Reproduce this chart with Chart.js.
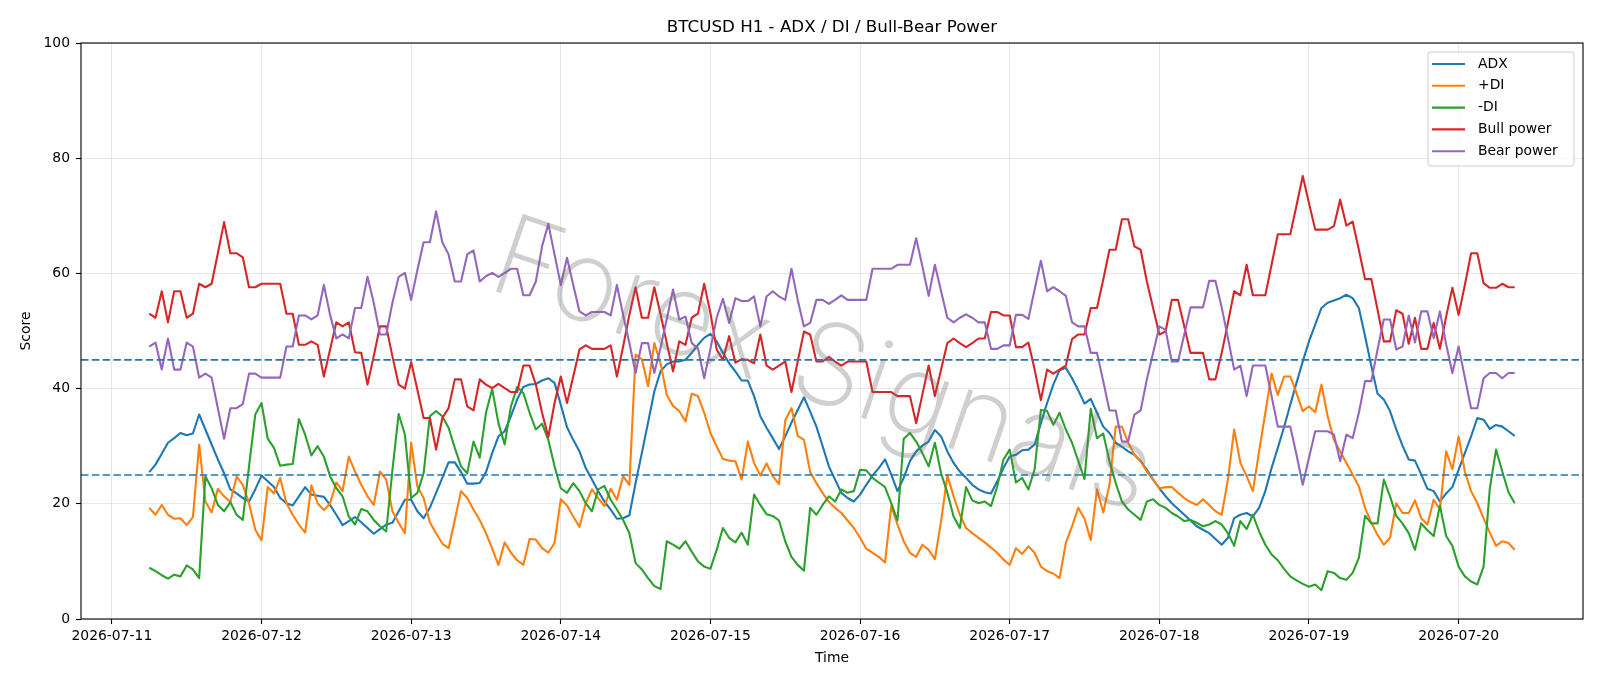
<!DOCTYPE html>
<html>
<head>
<meta charset="utf-8">
<title>BTCUSD H1 - ADX / DI / Bull-Bear Power</title>
<script src="https://cdn.jsdelivr.net/npm/chart.js@4.4.1/dist/chart.umd.min.js"></script>
<style>
  html, body { margin: 0; padding: 0; background: #fff; }
  #chart { display: block; }
</style>
</head>
<body>
<canvas id="chart" width="1600" height="686"></canvas>
<script>
// hourly bars, first one is 2026-07-11 06:00
var startHour = 6;
var dayLabels = ['2026-07-11', '2026-07-12', '2026-07-13', '2026-07-14', '2026-07-15',
	'2026-07-16', '2026-07-17', '2026-07-18', '2026-07-19', '2026-07-20'];

var adx = [25.5, 26.8, 28.7, 30.6, 31.4, 32.3, 31.9, 32.2, 35.5, 32.9, 30.3, 27.7, 25.3, 22.5, 21.8, 21.0, 20.4, 22.5, 24.9, 23.9,
	22.9, 21.0, 20.1, 19.7, 21.3, 22.9, 21.6, 21.4, 21.2, 19.8, 18.1, 16.3, 17.0, 17.7, 16.8, 15.8, 14.8, 15.6, 16.4, 16.7,
	18.7, 20.7, 20.7, 18.7, 17.5, 19.3, 21.9, 24.5, 27.2, 27.2, 25.5, 23.5, 23.5, 23.6, 25.5, 28.8, 31.7, 32.6, 35.2, 38.1,
	40.3, 40.7, 40.8, 41.4, 41.8, 41.0, 37.2, 33.3, 31.1, 29.1, 26.2, 24.2, 22.2, 20.4, 19.0, 17.4, 17.5, 18.0, 23.6, 28.8,
	34.1, 39.5, 43.0, 44.2, 44.7, 44.7, 45.0, 46.2, 47.6, 48.8, 49.5, 48.2, 46.2, 44.4, 43.0, 41.4, 41.4, 38.7, 35.2, 33.2,
	31.4, 29.5, 31.7, 34.1, 36.3, 38.5, 36.0, 33.4, 30.0, 26.5, 24.2, 21.9, 21.0, 20.4, 21.6, 23.3, 24.9, 26.2, 27.7, 25.1,
	22.2, 24.5, 27.4, 29.1, 30.1, 30.8, 32.8, 31.7, 29.1, 27.1, 25.6, 24.5, 23.3, 22.5, 22.0, 21.8, 23.9, 26.2, 28.2, 28.5,
	29.3, 29.4, 30.3, 34.0, 37.5, 40.7, 43.2, 43.6, 41.8, 39.7, 37.4, 38.2, 35.8, 33.4, 32.3, 30.6, 29.9, 29.1, 28.5, 27.4,
	25.9, 24.2, 22.7, 21.3, 20.1, 19.1, 18.1, 17.1, 16.1, 15.5, 14.9, 13.9, 12.9, 14.1, 17.5, 18.1, 18.4, 17.8, 19.3, 22.2,
	26.2, 29.7, 33.3, 37.2, 41.0, 44.7, 48.2, 51.1, 54.0, 54.9, 55.3, 55.7, 56.3, 55.7, 54.0, 49.1, 43.9, 39.1, 38.1, 36.1,
	32.9, 30.1, 27.7, 27.5, 25.1, 22.6, 22.2, 20.4, 21.8, 22.9, 25.9, 28.8, 31.7, 34.9, 34.6, 33.0, 33.7, 33.4, 32.6, 31.8];

var plusDI = [19.3, 18.1, 19.8, 18.1, 17.4, 17.5, 16.3, 17.7, 30.3, 20.4, 18.5, 22.6, 21.3, 20.3, 24.7, 23.3, 20.1, 15.5, 13.7, 22.9,
	21.8, 24.5, 20.1, 18.1, 16.4, 15.0, 23.2, 20.1, 18.9, 20.1, 23.7, 22.2, 28.2, 25.6, 23.3, 21.3, 19.8, 25.6, 24.2, 18.7,
	16.7, 14.9, 30.6, 23.0, 21.0, 16.8, 14.9, 13.1, 12.3, 17.2, 22.2, 21.0, 19.0, 17.2, 14.9, 12.2, 9.4, 13.3, 11.5, 10.2,
	9.4, 13.9, 13.8, 12.3, 11.5, 13.2, 20.8, 19.7, 17.8, 16.0, 20.1, 22.5, 21.0, 19.6, 22.6, 20.7, 24.8, 23.3, 45.9, 45.1,
	40.4, 47.9, 44.4, 38.9, 37.0, 36.1, 34.3, 39.1, 38.7, 35.8, 32.3, 30.0, 27.8, 27.5, 27.4, 24.2, 30.8, 27.1, 24.9, 27.0,
	24.8, 23.4, 34.5, 36.6, 31.8, 31.1, 25.5, 23.6, 21.9, 20.3, 19.3, 18.4, 17.1, 15.8, 14.1, 12.2, 11.5, 10.8, 9.8, 19.6,
	16.4, 13.5, 11.5, 10.8, 12.9, 12.0, 10.4, 17.0, 24.9, 21.3, 18.1, 15.8, 14.9, 14.1, 13.3, 12.4, 11.5, 10.3, 9.4, 12.3,
	11.3, 12.6, 11.5, 9.1, 8.3, 7.9, 7.1, 13.2, 16.1, 19.3, 17.4, 13.7, 22.5, 18.5, 23.3, 33.4, 33.4, 30.6, 28.5, 27.4,
	25.6, 24.2, 22.7, 22.9, 22.9, 21.9, 21.0, 20.3, 19.8, 20.8, 19.8, 18.7, 18.1, 24.2, 32.9, 27.1, 24.8, 22.2, 29.1, 35.8,
	42.6, 38.9, 42.1, 42.1, 39.2, 36.1, 36.9, 35.9, 40.7, 35.2, 31.1, 29.1, 27.1, 25.1, 23.0, 19.3, 16.7, 14.6, 12.9, 14.1,
	20.1, 18.4, 18.4, 20.6, 17.5, 16.4, 20.7, 19.0, 29.1, 26.0, 31.7, 25.6, 22.2, 20.1, 17.5, 15.0, 12.7, 13.5, 13.2, 12.0];

var minusDI = [8.9, 8.3, 7.6, 7.0, 7.7, 7.4, 9.3, 8.6, 7.1, 24.8, 22.7, 19.8, 18.7, 20.3, 18.1, 17.2, 26.5, 35.5, 37.5, 31.3,
	29.7, 26.6, 26.8, 26.9, 34.7, 32.0, 28.4, 30.0, 28.2, 24.8, 22.7, 21.3, 17.8, 16.4, 19.1, 18.7, 17.2, 16.1, 15.2, 25.9,
	35.6, 32.0, 21.0, 21.9, 25.3, 35.2, 36.1, 35.2, 33.2, 29.7, 26.5, 25.3, 30.8, 28.0, 35.8, 39.9, 34.0, 30.3, 36.9, 40.3,
	39.2, 35.8, 32.9, 33.9, 31.1, 26.5, 22.7, 21.9, 23.6, 22.2, 20.1, 18.7, 22.5, 23.1, 20.7, 19.0, 17.2, 14.9, 9.7, 8.6,
	7.1, 5.7, 5.2, 13.5, 12.9, 12.2, 13.5, 11.7, 10.0, 9.1, 8.7, 12.0, 15.8, 14.1, 13.3, 15.0, 12.9, 21.6, 19.8, 18.2,
	17.9, 17.1, 13.5, 10.8, 9.4, 8.4, 19.3, 18.1, 19.8, 21.3, 20.4, 22.5, 21.9, 22.2, 25.9, 25.8, 24.5, 23.7, 22.9, 20.1,
	17.1, 31.3, 32.3, 30.8, 28.8, 26.5, 30.6, 25.3, 21.9, 17.8, 15.8, 22.9, 20.6, 20.1, 20.4, 19.6, 23.0, 27.7, 29.4, 23.7,
	24.5, 22.5, 26.0, 36.3, 36.1, 33.7, 35.8, 32.9, 30.6, 27.4, 24.3, 36.5, 31.4, 32.2, 27.4, 23.6, 20.4, 19.0, 18.1, 17.2,
	20.4, 20.8, 19.8, 19.3, 18.4, 17.8, 17.0, 17.2, 16.7, 16.1, 16.4, 17.0, 16.4, 14.9, 12.7, 17.0, 15.6, 18.1, 15.2, 12.9,
	11.2, 10.2, 8.7, 7.4, 6.7, 6.1, 5.6, 6.0, 5.0, 8.3, 8.0, 7.1, 6.8, 8.0, 10.6, 17.9, 16.6, 16.6, 24.2, 21.3,
	17.9, 16.6, 14.9, 12.0, 16.6, 15.4, 14.4, 19.7, 14.4, 12.7, 9.1, 7.4, 6.5, 6.0, 9.1, 22.6, 29.4, 25.6, 22.0, 20.1];

var bullPower = [53.0, 52.3, 56.9, 51.5, 56.9, 56.9, 52.3, 53.0, 58.2, 57.6, 58.2, 63.5, 68.9, 63.5, 63.5, 62.8, 57.6, 57.6, 58.2, 58.2,
	58.2, 58.2, 53.0, 53.0, 47.6, 47.6, 48.2, 47.6, 42.1, 46.8, 51.5, 50.8, 51.5, 46.3, 46.2, 40.7, 45.6, 50.8, 50.8, 45.6,
	40.7, 40.0, 44.6, 39.8, 34.9, 34.9, 29.4, 34.9, 36.6, 41.6, 41.6, 36.9, 36.2, 41.6, 40.7, 40.1, 40.8, 40.1, 39.4, 39.4,
	44.0, 44.0, 40.7, 35.8, 31.6, 37.5, 42.1, 37.5, 42.1, 46.8, 47.5, 46.9, 46.9, 46.9, 47.5, 42.1, 47.3, 52.8, 57.6, 52.3,
	52.3, 57.6, 52.9, 47.9, 43.0, 48.2, 47.6, 52.3, 53.0, 58.2, 53.1, 46.8, 45.0, 49.1, 44.5, 45.1, 45.0, 44.4, 49.4, 44.0,
	43.3, 44.0, 44.7, 39.4, 44.7, 49.9, 49.4, 44.7, 44.7, 45.5, 44.7, 44.0, 44.7, 44.7, 44.7, 44.7, 39.4, 39.4, 39.4, 39.4,
	38.7, 38.7, 38.7, 34.0, 39.0, 44.0, 38.7, 43.3, 47.9, 48.7, 47.9, 47.2, 47.9, 48.7, 48.7, 53.3, 53.3, 52.7, 52.7, 47.2,
	47.2, 48.0, 43.3, 38.0, 43.3, 42.6, 43.3, 44.0, 48.6, 49.4, 49.4, 54.0, 54.0, 58.9, 64.1, 64.1, 69.4, 69.4, 64.7, 64.1,
	58.6, 54.0, 49.4, 49.9, 55.4, 55.4, 50.8, 46.2, 46.2, 46.2, 41.6, 41.6, 46.2, 51.4, 56.9, 56.2, 61.5, 56.2, 56.2, 56.2,
	61.5, 66.8, 66.8, 66.8, 71.8, 76.9, 72.2, 67.6, 67.6, 67.6, 68.2, 72.8, 68.3, 69.0, 64.1, 59.0, 59.0, 53.7, 48.2, 48.2,
	53.6, 53.0, 47.8, 52.3, 46.9, 46.9, 51.4, 46.9, 52.5, 57.5, 52.8, 58.0, 63.5, 63.5, 58.3, 57.5, 57.5, 58.2, 57.6, 57.6];

var bearPower = [47.3, 48.0, 43.3, 48.7, 43.3, 43.3, 48.0, 47.3, 41.9, 42.6, 41.9, 36.6, 31.3, 36.6, 36.6, 37.3, 42.6, 42.6, 41.9, 41.9,
	41.9, 41.9, 47.3, 47.3, 52.7, 52.7, 52.0, 52.7, 58.0, 52.8, 48.7, 49.4, 48.7, 54.0, 54.0, 59.4, 54.9, 49.4, 49.4, 54.9,
	59.4, 60.1, 55.4, 60.6, 65.4, 65.4, 70.8, 65.4, 63.3, 58.6, 58.6, 63.3, 64.0, 58.6, 59.5, 60.1, 59.4, 60.1, 60.8, 60.8,
	56.2, 56.2, 58.6, 64.7, 68.6, 63.3, 58.0, 62.7, 58.0, 53.4, 52.7, 53.3, 53.3, 53.3, 52.7, 58.0, 52.8, 47.9, 42.7, 47.9,
	47.9, 42.7, 47.1, 52.1, 57.2, 52.0, 52.5, 47.9, 47.0, 41.8, 46.9, 52.3, 55.6, 51.4, 55.7, 55.2, 55.2, 56.0, 50.8, 56.0,
	56.9, 56.0, 55.4, 60.8, 55.4, 50.8, 51.4, 55.4, 55.4, 54.7, 55.4, 56.2, 55.4, 55.4, 55.4, 55.4, 60.8, 60.8, 60.8, 60.8,
	61.5, 61.5, 61.5, 66.1, 61.2, 56.1, 61.5, 56.9, 52.3, 51.5, 52.3, 52.9, 52.3, 51.5, 51.5, 46.9, 46.9, 47.5, 47.5, 52.8,
	52.8, 52.1, 57.2, 62.2, 56.9, 57.6, 56.9, 56.1, 51.5, 50.8, 50.8, 46.2, 46.2, 41.3, 36.2, 36.2, 30.8, 30.8, 35.5, 36.2,
	41.6, 46.2, 50.8, 50.2, 44.7, 44.7, 49.4, 54.1, 54.1, 54.1, 58.7, 58.7, 54.1, 48.8, 43.3, 44.0, 38.7, 44.0, 44.0, 44.0,
	38.7, 33.4, 33.4, 33.4, 28.5, 23.3, 28.0, 32.6, 32.6, 32.6, 32.0, 27.4, 32.0, 31.4, 35.8, 41.3, 41.3, 46.8, 52.0, 52.0,
	46.8, 47.3, 52.7, 48.0, 53.4, 53.4, 48.8, 53.4, 47.7, 42.7, 47.3, 41.9, 36.6, 36.6, 41.8, 42.7, 42.7, 41.8, 42.7, 42.7];

var levels = [25, 45];

var seriesNames = ['ADX', '+DI', '-DI', 'Bull power', 'Bear power'];
var seriesColors = ['#1f77b4', '#ff7f0e', '#2ca02c', '#d62728', '#9467bd'];
var watermarkText = 'Forex Signals';

// x axis in hours from 2026-07-11 00:00, with matplotlib's 5% margins
var lastHour = startHour + adx.length - 1;
var span = lastHour - startHour;
var xMin = startHour - span * 0.05;
var xMax = lastHour + span * 0.05;

function toPoints(values) {
	return values.map(function(v, i) { return {x: startHour + i, y: v}; });
}

function buildDatasets() {
	var all = [adx, plusDI, minusDI, bullPower, bearPower];
	var sets = all.map(function(values, i) {
		return {
			label: seriesNames[i],
			data: toPoints(values),
			borderColor: seriesColors[i],
			borderWidth: 2.1,
			pointRadius: 0,
			tension: 0,
			borderJoinStyle: 'round',
			order: 10 - i
		};
	});
	levels.forEach(function(lv) {
		sets.push({
			label: 'level ' + lv,
			isLevel: true,
			data: [{x: xMin, y: lv}, {x: xMax, y: lv}],
			borderColor: '#1f77b4',
			borderWidth: 1.7,
			borderDash: [7.5, 3.3],
			pointRadius: 0,
			order: 0
		});
	});
	return sets;
}

var titlePlugin = {
	id: 'mplTitle',
	afterDraw: function(chart) {
		var ctx = chart.ctx, a = chart.chartArea;
		ctx.save();
		ctx.font = '16.7px "DejaVu Sans"';
		ctx.fillStyle = '#000';
		ctx.textAlign = 'center';
		ctx.textBaseline = 'alphabetic';
		ctx.fillText('BTCUSD H1 - ADX / DI / Bull-Bear Power', (a.left + a.right) / 2, 32);
		ctx.restore();
	}
};

var watermarkPlugin = {
	id: 'watermark',
	afterDatasetsDraw: function(chart) {
		var ctx = chart.ctx;
		ctx.save();
		ctx.translate(822, 368);
		ctx.rotate(19 * Math.PI / 180);
		// size the text so that it runs the same length as in the picture
		ctx.font = '200 100px Inter, "DejaVu Sans"';
		var size = 100 * 690 / ctx.measureText(watermarkText).width;
		ctx.font = '200 ' + size.toFixed(1) + 'px Inter, "DejaVu Sans"';
		ctx.fillStyle = 'rgba(110,110,110,0.33)';
		ctx.textAlign = 'center';
		ctx.textBaseline = 'middle';
		ctx.fillText(watermarkText, 0, 0);
		ctx.restore();
	}
};

var legendPlugin = {
	id: 'mplLegend',
	afterDatasetsDraw: function(chart) {
		var ctx = chart.ctx;
		var items = chart.data.datasets.filter(function(d) { return !d.isLevel; });
		var x0 = 1428, y0 = 52, w = 146, h = 114;
		ctx.save();
		ctx.beginPath();
		ctx.roundRect(x0, y0, w, h, 3);
		ctx.fillStyle = 'rgba(255,255,255,0.8)';
		ctx.fill();
		ctx.strokeStyle = '#cccccc';
		ctx.lineWidth = 1;
		ctx.stroke();
		ctx.font = '13.9px "DejaVu Sans"';
		ctx.textBaseline = 'middle';
		ctx.textAlign = 'left';
		items.forEach(function(d, i) {
			var y = 64 + i * 21.8;
			ctx.beginPath();
			ctx.moveTo(1432, y);
			ctx.lineTo(1465, y);
			ctx.strokeStyle = d.borderColor;
			ctx.lineWidth = 2.1;
			ctx.stroke();
			ctx.fillStyle = '#000';
			ctx.fillText(d.label, 1478, y);
		});
		ctx.restore();
	}
};

var framePlugin = {
	id: 'frame',
	afterDatasetsDraw: function(chart) {
		var ctx = chart.ctx, a = chart.chartArea;
		ctx.save();
		ctx.strokeStyle = '#000';
		ctx.lineWidth = 1.1;
		ctx.strokeRect(a.left, a.top, a.right - a.left, a.bottom - a.top);
		ctx.restore();
	}
};

Chart.defaults.font.family = '"DejaVu Sans", sans-serif';
Chart.defaults.color = '#000';

var ctx = document.getElementById('chart').getContext('2d');
var chart = new Chart(ctx, {
	type: 'line',
	data: { datasets: buildDatasets() },
	options: {
		responsive: false,
		devicePixelRatio: 1,
		animation: false,
		layout: { padding: { left: 0, right: 17, top: 43, bottom: 0 } },
		plugins: {
			legend: { display: false },
			title: { display: false },
			tooltip: { enabled: false }
		},
		scales: {
			x: {
				type: 'linear',
				min: xMin,
				max: xMax,
				afterFit: function(s) { s.height = 67; },
				afterBuildTicks: function(s) {
					s.ticks = dayLabels.map(function(_, d) { return {value: d * 24}; });
				},
				ticks: {
					autoSkip: false,
					maxRotation: 0,
					padding: 4,
					font: { size: 13.9 },
					callback: function(v) { return dayLabels[Math.round(v / 24)]; }
				},
				grid: { color: 'rgba(176,176,176,0.3)', lineWidth: 1, tickLength: 5, tickColor: '#000', tickWidth: 1.1 },
				border: { display: false },
				title: { display: true, text: 'Time', font: { size: 13.9 }, padding: { top: 0, bottom: 19.7 } }
			},
			y: {
				min: 0,
				max: 100,
				afterFit: function(s) { s.width = 81; },
				ticks: { stepSize: 20, padding: 6, font: { size: 13.9 } },
				grid: { color: 'rgba(176,176,176,0.3)', lineWidth: 1, tickLength: 5, tickColor: '#000', tickWidth: 1.1 },
				border: { display: false },
				title: { display: true, text: 'Score', font: { size: 13.9 }, padding: { top: 18, bottom: 0 } }
			}
		}
	},
	plugins: [watermarkPlugin, legendPlugin, framePlugin, titlePlugin]
});
</script>
</body>
</html>
